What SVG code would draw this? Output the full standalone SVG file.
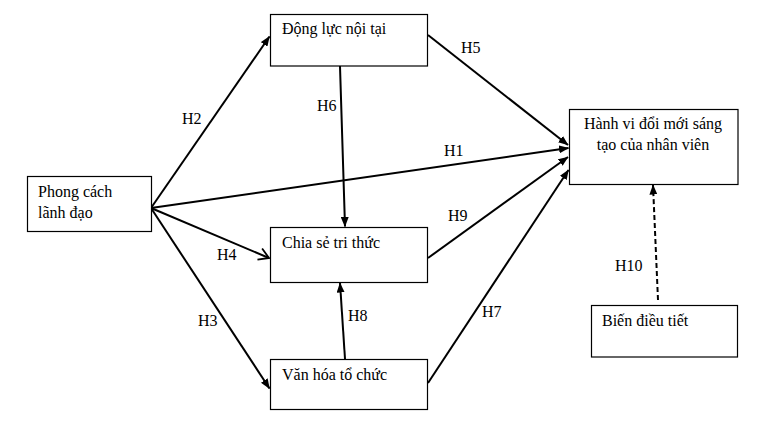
<svg xmlns="http://www.w3.org/2000/svg" width="759" height="425" viewBox="0 0 759 425">
<defs>
<style>
.box{fill:#fff;stroke:#000;stroke-width:1.2}
.t{font-size:16px;fill:#000}
.c{fill:none;stroke:#000;stroke-width:2}
</style>
<marker id="ah" markerUnits="userSpaceOnUse" markerWidth="10" markerHeight="8" refX="9.5" refY="4" orient="auto">
<path d="M0,0 L10,4 L0,8 z" fill="#000"/>
</marker>
<marker id="ao" markerUnits="userSpaceOnUse" markerWidth="12" markerHeight="14" refX="11" refY="7" orient="auto">
<path d="M1,1 L11,7 L1,13" fill="none" stroke="#000" stroke-width="1.8"/>
</marker>
</defs>
<rect width="759" height="425" fill="#fff"/>
<g font-family="Liberation Serif, Tinos, DejaVu Serif, serif">
<g id="connectors">
<line class="c" x1="151" y1="208" x2="269.5" y2="36.5" marker-end="url(#ah)"/>
<line class="c" x1="340" y1="66" x2="345" y2="226.5" marker-end="url(#ah)"/>
<line class="c" x1="428" y1="35" x2="568" y2="145" marker-end="url(#ah)"/>
<line class="c" x1="151" y1="208" x2="568.5" y2="148" marker-end="url(#ah)"/>
<line class="c" x1="428" y1="258" x2="568" y2="157" marker-end="url(#ah)"/>
<line class="c" x1="428" y1="383" x2="568.5" y2="170" marker-end="url(#ah)"/>
<line class="c" x1="151" y1="208" x2="269" y2="258" marker-end="url(#ao)"/>
<line class="c" x1="151" y1="208" x2="269.5" y2="388.5" marker-end="url(#ah)"/>
<line class="c" x1="345" y1="359" x2="340" y2="283" marker-end="url(#ah)"/>
<line class="c" x1="658" y1="300" x2="653" y2="185" stroke-dasharray="5,3" marker-end="url(#ah)"/>
<text class="t" x="182" y="124">H2</text>
<text class="t" x="317" y="111">H6</text>
<text class="t" x="461" y="53">H5</text>
<text class="t" x="444" y="156">H1</text>
<text class="t" x="448" y="221">H9</text>
<text class="t" x="217" y="260">H4</text>
<text class="t" x="198" y="326">H3</text>
<text class="t" x="348" y="321">H8</text>
<text class="t" x="482" y="317">H7</text>
<text class="t" x="615" y="271">H10</text>
</g>
<g id="dongluc">
<rect class="box" x="270.5" y="14.5" width="157" height="51.5"/>
<text class="t" x="282" y="34">Động lực nội tại</text>
</g>
<g id="phongcach">
<rect class="box" x="27.5" y="176.5" width="124" height="55"/>
<text class="t" x="38" y="196.5">Phong cách</text>
<text class="t" x="38" y="217.5">lãnh đạo</text>
</g>
<g id="hanhvi">
<rect class="box" x="569.5" y="109.5" width="168.5" height="75"/>
<text class="t" x="653" y="129" text-anchor="middle">Hành vi đổi mới sáng</text>
<text class="t" x="653" y="150" text-anchor="middle">tạo của nhân viên</text>
</g>
<g id="chiase">
<rect class="box" x="270.5" y="227.5" width="157" height="55"/>
<text class="t" x="282" y="248">Chia sẻ tri thức</text>
</g>
<g id="vanhoa">
<rect class="box" x="270.5" y="359.5" width="157" height="50"/>
<text class="t" x="282" y="380">Văn hóa tổ chức</text>
</g>
<g id="bien">
<rect class="box" x="591.5" y="305.5" width="146" height="51.5"/>
<text class="t" x="602" y="326">Biến điều tiết</text>
</g>
</g>
</svg>
